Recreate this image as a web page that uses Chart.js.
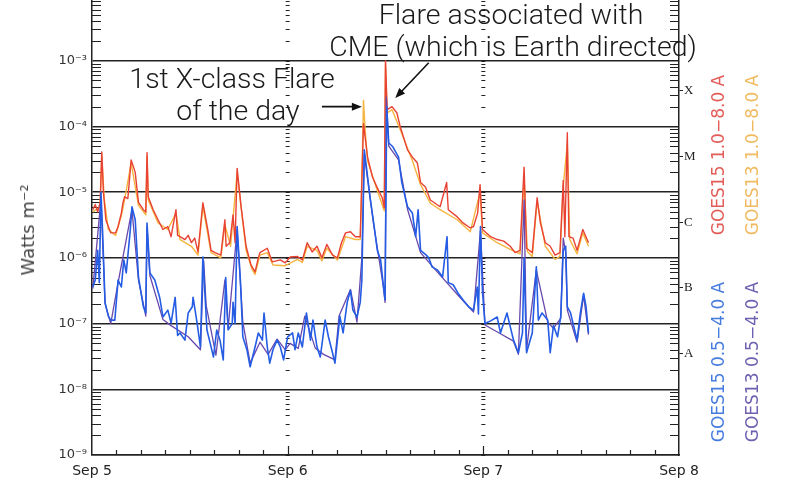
<!DOCTYPE html>
<html>
<head>
<meta charset="utf-8">
<script src="https://cdn.jsdelivr.net/npm/chart.js@4.4.1/dist/chart.umd.min.js"></script>
<style>
  body { margin: 0; background: #fff; }
  #wrap { position: relative; width: 800px; height: 480px; overflow: hidden; background: #fff; }
  #wrap canvas { position: absolute; left: 0; top: -20px; }
  .note { position: absolute; transform: translate(-50%, -50%); font-family: Roboto, "Open Sans", sans-serif; font-weight: 300; font-size: 28.5px; color: #1a1a1a; white-space: nowrap; line-height: 1; }
  .vert { position: absolute; transform: translate(-50%, -50%) rotate(-90deg); font-family: "DejaVu Sans", sans-serif; font-size: 17px; white-space: nowrap; line-height: 1; }
</style>
</head>
<body>
<div id="wrap">
  <canvas id="goesChart" width="800" height="500"></canvas>
  <div class="vert" style="left:28px; top:230px; color:#444; font-size:18px;">Watts m⁻²</div>
  <div class="vert" style="left:718px; top:155px; color:rgb(226,92,88);">GOES15 1.0−8.0 A</div>
  <div class="vert" style="left:752px; top:155px; color:rgb(240,186,96);">GOES13 1.0−8.0 A</div>
  <div class="vert" style="left:718px; top:362px; color:rgb(70,124,222);">GOES15 0.5−4.0 A</div>
  <div class="vert" style="left:752px; top:362px; color:rgb(112,96,176);">GOES13 0.5−4.0 A</div>
  <div class="note" style="left:511px; top:15px;">Flare associated with</div>
  <div class="note" style="left:513px; top:47px;">CME (which is Earth directed)</div>
  <div class="note" style="left:232px; top:79px;">1st X-class Flare</div>
  <div class="note" style="left:238px; top:111px;">of the day</div>
</div>
<script>
// hours since Sep 5 00:00 UT, flux in W/m^2
const goes15LongHours = [
  0.1, 0.4, 0.7, 1.0, 1.2, 1.4, 1.7, 2.0, 2.3, 2.9,
  3.2, 3.6, 3.8, 4.0, 4.4, 4.8, 5.3, 5.7, 6.3, 6.6,
  6.75, 6.9, 7.5, 8.1, 8.7, 9.3, 9.7, 10.3, 10.5, 10.8,
  11.4, 11.8, 12.2, 12.6, 13.0, 13.6, 14.2, 14.6, 15.1, 15.8,
  16.3, 16.45, 16.9, 17.3, 17.55, 17.8, 18.3, 18.9, 19.5, 20.0,
  20.4, 20.6, 21.5, 22.1, 23.1, 23.7, 24.3, 25.2, 25.8, 26.4,
  27.0, 27.6, 28.2, 28.8, 29.5, 30.1, 30.6, 31.1, 31.7, 32.3,
  32.9, 33.3, 33.8, 34.4, 35.0, 35.6, 35.85, 36.0, 36.2, 36.8,
  37.4, 37.8, 38.7, 39.3, 39.9, 40.0, 40.3, 40.9, 41.5, 42.7,
  43.5, 43.7, 44.8, 45.5, 46.4, 46.8, 47.3, 47.6, 47.9, 48.9,
  49.7, 50.5, 51.3, 51.9, 52.5, 53.0, 53.3, 54.0, 54.6, 55.0,
  55.6, 56.2, 56.8, 57.4, 57.8, 58.0, 58.3, 58.5, 59.0, 59.5,
  60.2, 60.9
];
const goes15Long = [
  5.4e-6, 6.5e-6, 5.0e-6, 7.0e-6, 4.1e-5, 1.0e-5, 3.8e-6, 3.0e-6, 2.4e-6, 2.4e-6,
  3.0e-6, 4.8e-6, 6.9e-6, 8.5e-6, 8.0e-6, 3.1e-5, 2.0e-5, 7.0e-6, 5.4e-6, 5.0e-6,
  4.0e-5, 8.5e-6, 5.4e-6, 3.8e-6, 2.7e-6, 3.0e-6, 2.1e-6, 5.4e-6, 2.2e-6, 2.1e-6,
  1.9e-6, 2.2e-6, 1.7e-6, 2.0e-6, 1.23e-6, 6.9e-6, 2.7e-6, 1.3e-6, 1.2e-6, 1.1e-6,
  3.8e-6, 1.5e-6, 1.7e-6, 4.5e-6, 1.7e-6, 2.3e-5, 5.8e-6, 1.5e-6, 7.8e-7, 6.1e-7,
  1.0e-6, 1.2e-6, 1.4e-6, 8.7e-7, 9.3e-7, 8.4e-7, 1.03e-6, 1.05e-6, 9.3e-7, 1.7e-6,
  1.23e-6, 1.5e-6, 1.0e-6, 1.6e-6, 1.1e-6, 1.0e-6, 1.7e-6, 2.4e-6, 2.5e-6, 2.1e-6,
  2.1e-6, 1.1e-4, 3.4e-5, 1.7e-5, 1.16e-5, 8.2e-6, 5.8e-6, 1.0e-3, 1.8e-4, 2.0e-4,
  1.6e-4, 1.0e-4, 4.4e-5, 3.4e-5, 2.8e-5, 2.4e-5, 1.4e-5, 1.2e-5, 7.6e-6, 6.0e-6,
  1.4e-5, 5.4e-6, 4.2e-6, 3.4e-6, 2.85e-6, 3.0e-6, 4.8e-6, 1.3e-5, 2.7e-6, 2.1e-6,
  1.9e-6, 1.8e-6, 1.5e-6, 1.2e-6, 1.3e-6, 2.4e-5, 1.4e-6, 1.2e-6, 8.2e-6, 3.4e-6,
  1.7e-6, 1.5e-6, 1.1e-6, 1.2e-6, 1.5e-5, 2.1e-6, 8.0e-5, 2.1e-6, 2.0e-6, 1.3e-6,
  2.7e-6, 1.7e-6
];

const goes13LongHours = [
  0.1, 1.0, 1.2, 1.5, 2.0, 2.9, 3.6, 4.0, 4.8, 5.7,
  6.6, 6.75, 6.9, 8.1, 9.3, 10.3, 10.8, 12.2, 13.0, 13.6,
  14.6, 15.8, 16.3, 17.0, 17.8, 18.9, 19.6, 20.0, 20.6, 21.5,
  22.2, 23.7, 25.2, 25.8, 26.4, 27.6, 28.2, 28.8, 30.1, 31.1,
  32.3, 32.9, 33.1, 33.3, 33.5, 33.8, 35.0, 35.85, 36.0, 36.2,
  36.8, 37.8, 39.3, 40.3, 41.5, 42.7, 44.8, 46.4, 47.6, 47.9,
  49.7, 51.3, 52.5, 53.0, 53.4, 54.0, 54.6, 55.6, 56.8, 57.4,
  57.8, 58.3, 58.6, 59.5, 60.2, 60.9
];
const goes13Long = [
  5.0e-6, 6.0e-6, 3.5e-5, 8.0e-6, 2.7e-6, 2.2e-6, 4.4e-6, 7.6e-6, 2.8e-5, 6.3e-6,
  4.5e-6, 3.5e-5, 7.6e-6, 3.4e-6, 2.7e-6, 4.8e-6, 1.9e-6, 1.5e-6, 1.1e-6, 6.0e-6,
  1.2e-6, 1.0e-6, 3.2e-6, 1.5e-6, 2.0e-5, 1.3e-6, 6.8e-7, 5.6e-7, 1.1e-6, 1.2e-6,
  7.8e-7, 7.6e-7, 9.5e-7, 8.5e-7, 1.5e-6, 1.3e-6, 9.0e-7, 1.4e-6, 9.3e-7, 2.1e-6,
  1.9e-6, 1.9e-6, 1.5e-5, 2.5e-4, 9.0e-5, 3.0e-5, 1.05e-5, 5.2e-6, 9.0e-4, 1.6e-4,
  1.8e-4, 9.0e-5, 3.0e-5, 1.3e-5, 6.8e-6, 5.4e-6, 3.8e-6, 2.5e-6, 1.0e-5, 2.4e-6,
  1.7e-6, 1.35e-6, 1.15e-6, 1.6e-5, 1.25e-6, 1.05e-6, 7.2e-6, 1.5e-6, 9.5e-7, 1.05e-6,
  1.2e-5, 5.5e-5, 1.9e-6, 1.15e-6, 2.4e-6, 1.5e-6
];

const goes15ShortHours = [
  0.1, 0.4, 0.7, 0.9, 1.1, 1.3, 1.6, 2.0, 2.3, 2.8,
  3.2, 3.6, 3.9, 4.2, 4.7, 4.9, 5.3, 5.7, 6.3, 6.6,
  6.75, 7.1, 7.7, 8.3, 8.7, 9.3, 9.7, 10.2, 10.5, 10.8,
  11.4, 11.8, 12.3, 12.4, 12.9, 13.3, 13.6, 14.1, 14.5, 14.9,
  15.3, 15.7, 16.1, 16.4, 16.7, 17.2, 17.3, 17.55, 17.8, 18.2,
  18.5, 19.0, 19.4, 20.0, 20.4, 20.9, 21.1, 21.5, 21.8, 22.2,
  22.7, 23.1, 23.5, 24.0, 24.6, 24.9, 25.3, 25.8, 26.3, 26.8,
  27.1, 27.6, 28.0, 28.6, 29.0, 29.5, 29.8, 30.2, 30.4, 30.8,
  31.3, 31.7, 32.0, 32.5, 32.9, 33.1, 33.4, 34.1, 34.5, 35.0,
  35.4, 35.7, 35.95, 36.15, 36.4, 36.9, 37.6, 38.0, 38.7, 39.3,
  39.7, 40.0, 40.3, 41.0, 41.3, 41.7, 42.4, 43.0, 43.55, 43.7,
  44.3, 44.9, 45.5, 46.2, 46.8, 47.25, 47.4, 47.65, 47.9, 48.2,
  48.9, 49.7, 50.1, 50.9, 51.7, 52.3, 52.8, 53.0, 53.3, 54.0,
  54.5, 54.75, 55.2, 55.9, 56.2, 56.6, 57.1, 57.5, 57.8, 58.1,
  58.3, 58.7, 59.1, 59.5, 59.9, 60.3, 60.6, 60.9
];
const goes15Short = [
  3.6e-7, 4.6e-7, 1.3e-6, 4.2e-7, 1.0e-5, 2.5e-6, 2.1e-7, 1.3e-7, 1.13e-7, 1.13e-7,
  4.6e-7, 3.6e-7, 9.3e-7, 5.9e-7, 2.7e-6, 6.0e-6, 3.8e-6, 5.1e-7, 1.8e-7, 1.45e-7,
  3.4e-6, 5.9e-7, 4.6e-7, 2.5e-7, 1.26e-7, 1.6e-7, 1.02e-7, 2.5e-7, 6.6e-8, 7.2e-8,
  5.6e-8, 1.45e-7, 1.8e-7, 2.5e-7, 1.0e-7, 4.4e-8, 1.03e-6, 8.0e-8, 5.0e-8, 3.1e-8,
  8.0e-8, 5.6e-8, 2.8e-8, 5.0e-7, 8.0e-8, 1.0e-7, 2.1e-7, 1.0e-7, 3.0e-6, 4.6e-7,
  6.3e-8, 4.0e-8, 2.2e-8, 4.4e-8, 7.2e-8, 5.6e-8, 1.45e-7, 4.4e-8, 2.5e-8, 4.0e-8,
  5.6e-8, 4.4e-8, 2.8e-8, 6.3e-8, 7.2e-8, 4.0e-8, 7.2e-8, 4.4e-8, 1.45e-7, 5.6e-8,
  1.13e-7, 4.4e-8, 3.1e-8, 1.13e-7, 6.3e-8, 3.6e-8, 2.5e-8, 7.2e-8, 1.3e-7, 7.2e-8,
  2.1e-7, 3.2e-7, 1.6e-7, 1.26e-7, 2.1e-7, 4.6e-7, 4.4e-5, 8.5e-6, 3.8e-6, 1.3e-6,
  9.3e-7, 4.2e-7, 2.3e-7, 2.0e-4, 5.6e-5, 4.9e-5, 3.4e-5, 1.4e-5, 6.0e-6, 4.8e-6,
  2.1e-6, 5.4e-6, 1.3e-6, 1.1e-6, 1.0e-6, 7.3e-7, 6.5e-7, 5.1e-7, 2.1e-6, 4.2e-7,
  3.9e-7, 2.9e-7, 2.3e-7, 1.8e-7, 1.6e-7, 3.6e-7, 1.4e-7, 3.0e-6, 3.0e-7, 1.0e-7,
  1.1e-7, 1.26e-7, 7.2e-8, 1.45e-7, 5.6e-8, 3.6e-8, 7.2e-8, 1.0e-6, 3.6e-8, 7.2e-8,
  7.3e-7, 1.13e-7, 1.45e-7, 1.13e-7, 3.6e-8, 9.3e-8, 6.3e-8, 1.3e-7, 1.3e-6, 1.5e-6,
  1.8e-7, 1.45e-7, 9.0e-8, 5.6e-8, 1.45e-7, 2.9e-7, 1.8e-7, 7.2e-8
];

const goes13ShortHours = [
  0.1, 1.1, 1.6, 2.3, 3.2, 4.9, 5.7, 6.6, 6.75, 7.1,
  8.7, 9.7, 11.8, 13.3, 13.7, 14.0, 15.2, 16.3, 16.7, 17.8,
  18.5, 19.4, 20.6, 21.6, 22.7, 23.7, 24.3, 25.3, 26.1, 27.4,
  28.4, 29.8, 30.3, 31.7, 32.5, 33.1, 33.4, 34.5, 35.7, 35.95,
  36.1, 36.4, 37.6, 38.7, 40.3, 42.4, 44.9, 46.8, 47.65, 48.2,
  50.1, 51.7, 52.3, 53.0, 53.3, 54.5, 55.9, 56.6, 57.5, 57.8,
  58.1, 58.3, 59.5, 60.3, 60.9
];
const goes13Short = [
  3.4e-7, 8.0e-6, 2.0e-7, 1.0e-7, 4.2e-7, 5.4e-6, 4.6e-7, 1.3e-7, 3.0e-6, 5.4e-7,
  1.15e-7, 9.3e-8, 6.3e-8, 4.0e-8, 9.0e-7, 1.9e-7, 3.3e-8, 4.6e-7, 8.5e-8, 2.7e-6,
  1.05e-7, 2.5e-8, 5.2e-8, 3.4e-8, 5.8e-8, 4.0e-8, 5.0e-8, 4.2e-8, 1.3e-7, 4.2e-8,
  3.4e-8, 2.8e-8, 1.3e-7, 3.3e-7, 1.05e-7, 1.0e-6, 3.8e-5, 3.5e-6, 3.9e-7, 2.1e-7,
  2.8e-4, 5.0e-5, 3.1e-5, 5.5e-6, 1.2e-6, 6.0e-7, 2.7e-7, 1.5e-7, 2.6e-6, 9.5e-8,
  7.0e-8, 5.4e-8, 3.4e-8, 7.6e-6, 4.0e-8, 6.5e-7, 1.05e-7, 8.5e-8, 1.2e-7, 2.0e-6,
  1.2e-6, 1.6e-7, 5.2e-8, 2.7e-7, 6.8e-8
];

// axes
const dayHours = [0, 24, 48, 72];
const dayLabels = ['Sep 5', 'Sep 6', 'Sep 7', 'Sep 8'];
const decadeExps = [-9, -8, -7, -6, -5, -4, -3, -2];
const classLevels = [3.5e-8, 3.5e-7, 3.5e-6, 3.5e-5, 3.5e-4];
const classLetters = ['A', 'B', 'C', 'M', 'X'];

// arrows of the annotations, in (hour, flux)
const arrows = [
  { from: [28.2, 2.0e-4], to: [33.1, 2.0e-4] },
  { from: [41.3, 9.3e-4], to: [37.2, 2.7e-4] }
];

const supChars = { '-': '⁻', '0': '⁰', '1': '¹', '2': '²', '3': '³', '4': '⁴', '5': '⁵', '6': '⁶', '7': '⁷', '8': '⁸', '9': '⁹' };
const powerLabel = (v) => '10' + String(Math.round(Math.log10(v))).split('').map(c => supChars[c]).join('');

const toPoints = (hours, values) => hours.map((h, i) => ({ x: h, y: values[i] }));

const line = (label, hours, values, color, width) => ({
    label: label,
    data: toPoints(hours, values),
    borderColor: color,
    borderWidth: width,
    borderJoinStyle: 'round',
    pointRadius: 0,
    tension: 0,
    fill: false
});

// inward ticks on the frame and the dotted day lines
const frameTicks = {
    id: 'frameTicks',
    beforeDatasetsDraw(chart) {
        const { ctx, chartArea: a, scales: { x, y } } = chart;
        ctx.save();
        ctx.strokeStyle = '#222';
        ctx.lineWidth = 1.2;
        ctx.beginPath();
        decadeExps.slice(0, -1).forEach(e => {
            for (let k = 1; k <= 9; k++) {
                const py = Math.round(y.getPixelForValue(k * Math.pow(10, e))) + 0.5;
                if (k > 1) {
                    ctx.moveTo(a.left, py); ctx.lineTo(a.left + 9, py);
                    ctx.moveTo(a.right - 9, py); ctx.lineTo(a.right, py);
                }
                [24, 48].forEach(h => {
                    const px = x.getPixelForValue(h);
                    ctx.moveTo(px - 2, py); ctx.lineTo(px + 2, py);
                });
            }
        });
        for (let h = 3; h < 72; h += 3) {
            const px = Math.round(x.getPixelForValue(h)) + 0.5;
            const len = h % 24 === 0 ? 9 : 5;
            ctx.moveTo(px, a.bottom); ctx.lineTo(px, a.bottom - len);
        }
        ctx.stroke();
        ctx.restore();
    },
    afterDraw(chart) {
        const { ctx, scales: { x, y } } = chart;
        ctx.save();
        ctx.strokeStyle = '#111';
        ctx.fillStyle = '#111';
        ctx.lineWidth = 1.6;
        arrows.forEach(ar => {
            const x0 = x.getPixelForValue(ar.from[0]), y0 = y.getPixelForValue(ar.from[1]);
            const x1 = x.getPixelForValue(ar.to[0]), y1 = y.getPixelForValue(ar.to[1]);
            const ang = Math.atan2(y1 - y0, x1 - x0);
            ctx.beginPath();
            ctx.moveTo(x0, y0);
            ctx.lineTo(x1 - 8 * Math.cos(ang), y1 - 8 * Math.sin(ang));
            ctx.stroke();
            ctx.beginPath();
            ctx.moveTo(x1, y1);
            ctx.lineTo(x1 - 10 * Math.cos(ang) + 4 * Math.sin(ang), y1 - 10 * Math.sin(ang) - 4 * Math.cos(ang));
            ctx.lineTo(x1 - 10 * Math.cos(ang) - 4 * Math.sin(ang), y1 - 10 * Math.sin(ang) + 4 * Math.cos(ang));
            ctx.closePath();
            ctx.fill();
        });
        ctx.restore();
    }
};

const ctx = document.querySelector('#goesChart');
const goesChart = new Chart(ctx, {
    type: 'line',
    data: {
        datasets: [
            line('GOES15 0.5-4.0 A', goes15ShortHours, goes15Short, 'rgb(36,92,228)', 1.6),
            line('GOES13 0.5-4.0 A', goes13ShortHours, goes13Short, 'rgb(104,72,172)', 1.3),
            line('GOES15 1.0-8.0 A', goes15LongHours, goes15Long, 'rgb(232,66,52)', 1.4),
            line('GOES13 1.0-8.0 A', goes13LongHours, goes13Long, 'rgb(246,180,62)', 1.4)
        ]
    },
    options: {
        responsive: false,
        animation: false,
        devicePixelRatio: 1,
        layout: { padding: { top: 15, left: 0, right: 0, bottom: 0 } },
        plugins: {
            legend: { display: false },
            tooltip: { enabled: false }
        },
        scales: {
            x: {
                type: 'linear',
                min: 0,
                max: 72,
                afterBuildTicks: (s) => { s.ticks = dayHours.map(v => ({ value: v })); },
                afterFit: (s) => { s.height = 25; },
                ticks: {
                    autoSkip: false,
                    maxRotation: 0,
                    padding: 0,
                    color: '#222',
                    font: { family: 'DejaVu Sans', size: 14 },
                    callback: (v, i) => dayLabels[i]
                },
                grid: { display: false },
                border: { display: true, color: '#222', width: 1.5 }
            },
            y: {
                type: 'logarithmic',
                position: 'left',
                min: 1e-9,
                max: 1e-2,
                afterBuildTicks: (s) => { s.ticks = decadeExps.map(e => ({ value: Math.pow(10, e) })); },
                afterFit: (s) => { s.width = 92; },
                ticks: {
                    padding: 5,
                    color: '#333',
                    font: { family: 'DejaVu Sans', size: 13 },
                    callback: (v) => powerLabel(v)
                },
                grid: { color: '#222', lineWidth: 1.4, drawTicks: false },
                border: { display: true, color: '#222', width: 1.5 }
            },
            y2: {
                type: 'logarithmic',
                position: 'right',
                min: 1e-9,
                max: 1e-2,
                afterBuildTicks: (s) => { s.ticks = classLevels.map(v => ({ value: v })); },
                afterFit: (s) => { s.width = 121; },
                ticks: {
                    padding: 1,
                    color: '#222',
                    font: { family: 'Liberation Serif', size: 13 },
                    callback: (v, i) => classLetters[i]
                },
                grid: { drawOnChartArea: false, drawTicks: true, tickLength: 4, color: '#222' },
                border: { display: true, color: '#222', width: 1.5 }
            }
        }
    },
    plugins: [frameTicks]
});
</script>
</body>
</html>
